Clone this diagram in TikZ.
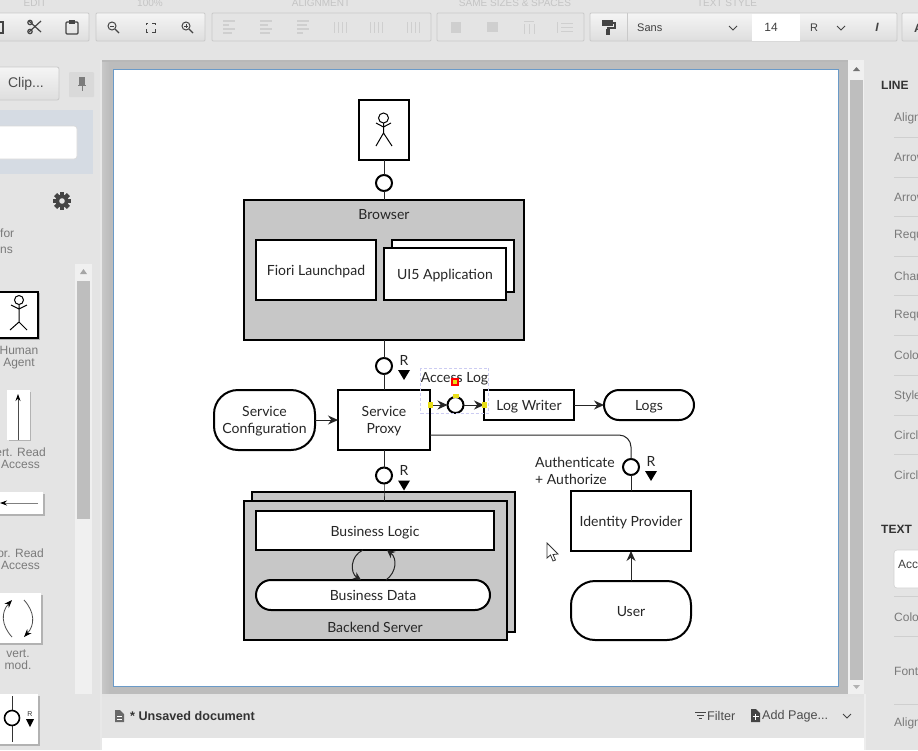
\documentclass[tikz,border=0pt]{standalone}
\usepackage{fontspec}
\setmainfont{Lato}
\newfontfamily\uifont{Liberation Sans}
\usetikzlibrary{arrows.meta,shapes.geometric}
\definecolor{appbg}{HTML}{E4E4E4}
\definecolor{stagebg}{HTML}{BCBCBC}
\definecolor{btnline}{HTML}{C9C9C9}
\definecolor{iconc}{HTML}{444444}
\definecolor{iconoff}{HTML}{CFCFCF}
\definecolor{labelc}{HTML}{7A7A7A}
\definecolor{headc}{HTML}{C4C4C4}
\definecolor{groupc}{HTML}{C9C9C9}
\definecolor{canvasline}{HTML}{6A9AC8}
\definecolor{searchbg}{HTML}{D5DBE3}
\definecolor{trackc}{HTML}{F0F0F0}
\definecolor{thumbc}{HTML}{BEBEBE}
\definecolor{sepc}{HTML}{CFCFCF}
\definecolor{selc}{HTML}{CCCCF2}
\tikzset{
  x=1pt,y=-1pt,
  btn/.style={draw=btnline,line width=.8pt,top color=F5btn,bottom color=E0btn},
  off/.style={draw=btnline,line width=.8pt},
  diag/.style={font=\fontsize{14}{17}\selectfont,text=black!85,align=center,inner sep=0pt},
  oneline/.style={text height=11pt,text depth=0pt},
  twoline/.style={text depth=0pt},
  block/.style={draw=black,line width=2pt,outer sep=0pt,fill=white,diag,minimum width=#1},
  gblock/.style={draw=black,line width=2pt,outer sep=0pt,fill=black!22,diag,minimum width=#1},
  conn/.style={draw=black!85,line width=1pt},
  arr/.style={conn,-{Stealth[length=10pt,width=9pt]}},
  port/.style={circle,draw=black,line width=2pt,fill=white,minimum size=16pt,inner sep=0pt,outer sep=0pt},
  rlabel/.style={diag,oneline},
  rtri/.style={fill=black,draw=none},
  ui/.style={font=\uifont\fontsize{12}{14}\selectfont,text=labelc,inner sep=0pt,anchor=west},
  uic/.style={font=\uifont\fontsize{12}{12}\selectfont,text=labelc,inner sep=0pt,align=center},
  uib/.style={font=\uifont\fontsize{12.6}{14}\selectfont,text=black!70,inner sep=0pt,anchor=west},
  head/.style={font=\uifont\fontsize{10}{12}\selectfont,text=headc,inner sep=0pt},
  sect/.style={font=\uifont\bfseries\fontsize{12}{14}\selectfont,text=black!80,inner sep=0pt,anchor=west},
  ico/.style={draw=iconc,line width=1.2pt},
  icooff/.style={draw=iconoff,line width=1.2pt},
  handle/.style={fill=yellow!90!black,draw=none},
  palette/.style={fill=white,draw=none},
  shade/.style={fill=black!30,draw=none},
}
\colorlet{F5btn}{white!96!black}
\colorlet{E0btn}{white!87!black}
\begin{document}
\begin{tikzpicture}
\useasboundingbox (0,0) rectangle (918,750);
\clip (0,0) rectangle (918,750);
% app background
\fill[appbg] (0,0) rectangle (918,750);
% stage around the canvas
\fill[stagebg] (102,60) rectangle (848,694);
\fill[left color=white!78!black,right color=stagebg] (102,60) rectangle (110,694);
\fill[white!91!black] (100,60) rectangle (102,750);
\fill[white!72!black] (102,60) rectangle (848,62);
% canvas
\path[fill=white,draw=canvasline,line width=1pt] (113.5,69) rectangle (838.5,686.5);
% toolbar
\node[head] (hEdit) at (35,3) {EDIT};
\node[head] (hZoom) at (150,3) {100\%};
\node[head] (hAlign) at (321,3) {ALIGNMENT};
\node[head] (hSame) at (515,3) {SAME SIZES \& SPACES};
\node[head] (hText) at (727,3) {TEXT STYLE};
\path[btn,rounded corners=1pt] (-5,13) rectangle (89,41);
\path[btn,rounded corners=1pt] (96,13) rectangle (205,41);
\path[off,rounded corners=1pt] (212,13) rectangle (431,41);
\path[off,rounded corners=1pt] (437,13) rectangle (584,41);
\path[btn,rounded corners=1pt] (590,13) rectangle (897,41);
\path[btn,rounded corners=1pt] (902,13) rectangle (925,41);
% copy fragment, scissors, clipboard
\draw[ico] (-2,22) rectangle (3,33);
\draw[ico] (29,21)--(41,32) (41,21)--(29,32);
\draw[ico] (30,22.5) circle (2.2pt) (30,31.5) circle (2.2pt);
\draw[ico,line width=1.4pt,rounded corners=1pt] (66,22) rectangle (78,34);
\fill[iconc] (69,20) rectangle (75,24);
% zoom icons
\foreach \zx in {113,187}{
  \draw[ico,line width=1pt] (\zx-1,26) circle (4pt);
  \draw[ico] (\zx+2,29)--(\zx+6,33);
  \draw[ico,line width=.8pt] (\zx-3,26)--(\zx+1,26);
}
\draw[ico,line width=.8pt] (187-1,24)--(187-1,28);
\draw[ico,line width=1pt] (146,25)--(146,23)--(148,23) (152,23)--(155,23)--(155,25) (155,29)--(155,32)--(152,32) (148,32)--(146,32)--(146,29);
% alignment icons (disabled)
\foreach \ax/\da/\db in {229/6/3,266/4/2,303/2/6}{
  \foreach \ly/\w in {21/0,25/\da,29/0,33/\db}{
    \draw[icooff] (\ax-6,\ly)--(\ax+6-\w,\ly);
  }
}
\foreach \ax in {340,376,413}{
  \foreach \lx in {-6,-2,2,6}{
    \draw[icooff,line width=1pt] (\ax+\lx,22)--(\ax+\lx,33);
  }
}
\fill[iconoff] (451,22) rectangle (461,33);
\fill[iconoff] (487,22) rectangle (498,32);
\foreach \lx in {-5,0,5}{\draw[icooff,line width=1pt] (529+\lx,24)--(529+\lx,34);}
\draw[icooff,line width=1pt] (524,21)--(534,21);
\foreach \ly in {23,27,31}{\draw[icooff,line width=1pt] (561,\ly)--(573,\ly);}
\draw[icooff,line width=1pt] (557,22)--(557,33);
% text-style group
\draw[btnline,line width=.8pt] (627,13)--(627,41);
\fill[iconc] (602,20) rectangle (613,26);
\draw[iconc,line width=1.2pt] (613,23)--(615,23)--(615,28)--(608,28)--(608,30);
\fill[iconc] (606,29) rectangle (610,35);
\node[font=\uifont\fontsize{11}{13}\selectfont,text=black!75,inner sep=0pt,anchor=west] (fontName) at (637,28) {Sans};
\draw[ico,line width=1pt] (729,26)--(733,30)--(737,26);
\fill[white] (752,13.5) rectangle (800,40.5);
\node[font=\uifont\fontsize{12}{14}\selectfont,text=black!75,inner sep=0pt] (fontSize) at (771,27) {14};
\node[font=\uifont\fontsize{11}{13}\selectfont,text=black!75,inner sep=0pt] (fontWeight) at (814,28) {R};
\draw[ico,line width=1pt] (837,26)--(841,30)--(845,26);
\node[font=\uifont\bfseries\itshape\fontsize{12}{14}\selectfont,text=iconc,inner sep=0pt] (fontItalic) at (877,27) {I};
\node[font=\uifont\bfseries\fontsize{12}{14}\selectfont,text=iconc,inner sep=0pt,anchor=west] (fontA) at (914,28) {A};
% left sidebar
\path[btn,rounded corners=2pt] (-5,67) rectangle (59,100);
\node[font=\uifont\fontsize{14}{16}\selectfont,text=black!70,inner sep=0pt] (clipBtn) at (26,84) {Clip...};
\fill[white!85!black,rounded corners=1pt] (69,72) rectangle (94,97);
\fill[iconc!70!white] (79,77) rectangle (85,85);
\draw[iconc!70!white,line width=1pt] (82,85)--(82,91) (78,85)--(86,85);
\fill[searchbg] (0,110) rectangle (93,174);
\path[fill=white,draw=white!85!black,line width=.6pt,rounded corners=3pt] (-5,126) rectangle (77,159);
% gear
\foreach \ga in {0,45,...,315}{
  \fill[iconc,rotate around={\ga:(62,201)}] (60,192) rectangle (64,210);
}
\fill[iconc] (62,201) circle (6.5pt);
\fill[appbg] (62,201) circle (2.8pt);
\node[ui] (pFor) at (0,233) {for};
\node[ui] (pNs) at (0,250) {ns};
% palette scrollbar
\fill[trackc] (75,264) rectangle (92,694);
\fill[thumbc] (77,281) rectangle (90,519);
\fill[black!35] (83.5,269)--(80,274)--(87,274)--cycle;
% palette items
\fill[shade] (-2,293) rectangle (40,340);
\path[palette,draw=black,line width=2pt] (-2,291.5) rectangle (38,338);
\draw[black,line width=1pt] (19,300) circle (4.5pt) (19,304.5)--(19,322) (11,305)--(19,309)--(27,305) (10,330)--(19,322)--(27,330);
\node[uic] (pHuman) at (19,357.5) {Human\\Agent};
\fill[shade] (9,392) rectangle (31,441);
\fill[palette] (7,390) rectangle (30,440);
\coordinate (vrA) at (18,440);
\coordinate (vrB) at (18,394);
\draw[black!70,line width=.8pt,-{Stealth[length=7pt,width=5pt,color=black]}] (vrA)--(vrB);
\node[uic,anchor=east] (pVert) at (46,458.5) {ert. Read\\Access};
\fill[shade] (-2,494) rectangle (45,516);
\fill[palette] (-2,492) rectangle (43,514);
\coordinate (hrA) at (38,503);
\coordinate (hrB) at (0,503);
\draw[black!50,line width=.8pt,-{Stealth[length=7pt,width=5pt,color=black]}] (hrA)--(hrB);
\node[uic,anchor=east] (pHor) at (44,559) {or. Read\\Access};
\fill[shade] (-2,595) rectangle (43,645);
\fill[palette] (-2,593) rectangle (41,643);
\coordinate (vmA) at (12,637);
\coordinate (vmB) at (12,600);
\coordinate (vmC) at (24,600);
\coordinate (vmD) at (24,637);
\draw[black!70,line width=.8pt,-{Stealth[length=8pt,width=6pt,color=black]}] (vmA) .. controls (1,625) and (1,612) .. (vmB);
\draw[black!70,line width=.8pt,-{Stealth[length=8pt,width=6pt,color=black]}] (vmC) .. controls (35,612) and (35,625) .. (vmD);
\node[uic] (pMod) at (18,660) {vert.\\mod.};
\fill[shade] (-2,696) rectangle (40,746);
\fill[palette] (-2,694) rectangle (38,744);
\coordinate (rbA) at (12,696);
\coordinate (rbB) at (12,742);
\draw[black!80,line width=1pt] (rbA)--(rbB);
\node[circle,draw=black,line width=1.6pt,fill=white,minimum size=15pt,inner sep=0pt] (rbC) at (12,718) {};
\node[font=\uifont\fontsize{7}{8}\selectfont,text=black!80,inner sep=0pt] (rbR) at (30,714) {R};
\fill[black] (26,719)--(34,719)--(30,727)--cycle;
% right scrollbar and panel
\fill[trackc] (848,60) rectangle (864,694);
\fill[thumbc] (850,80) rectangle (863,680);
\fill[black!55] (856.5,67)--(853,71)--(860,71)--cycle;
\fill[black!30] (856.5,689)--(853,685)--(860,685)--cycle;
\node[sect] (tLine) at (881,85) {LINE};
\node[ui] (tA1) at (894,118) {Align};
\node[ui] (tA2) at (894,157) {Arrow};
\node[ui] (tA3) at (894,197) {Arrow};
\node[ui] (tR1) at (894,236) {Requ};
\node[ui] (tC1) at (894,276) {Chan};
\node[ui] (tR2) at (894,316) {Requ};
\node[ui] (tC2) at (894,355) {Colo};
\node[ui] (tS) at (894,396) {Style};
\node[ui] (tC3) at (894,435) {Circl};
\node[ui] (tC4) at (894,475) {Circl};
\node[sect] (tText) at (881,529) {TEXT};
\path[fill=white,draw=white!82!black,line width=.6pt,rounded corners=3pt] (894,550) rectangle (925,588);
\node[ui,text=black!75] (tAcc) at (898,564) {Acc};
\node[ui] (tC5) at (894,617) {Colo};
\node[ui] (tF) at (894,671) {Font};
\node[ui] (tA4) at (894,723) {Align};
\foreach \sy in {137,177,216,256,295,335,375,415,454,596,636,704}{
  \draw[sepc,line width=.6pt] (894,\sy)--(918,\sy);
}
% bottom bar
\fill[white!89!black] (102,694) rectangle (865,697);
\fill[white] (102,738) rectangle (865,750);
\fill[white!93!black] (864,694) rectangle (866,750);
\fill[iconc!80!white] (115,710) -- (120,710) -- (124,714) -- (124,722) -- (115,722) -- cycle;
\draw[white,line width=.6pt] (117,716.5)--(122,716.5) (117,719)--(122,719);
\node[font=\uifont\bfseries\fontsize{12.6}{14}\selectfont,text=black!80,inner sep=0pt,anchor=west] (docName) at (130,716) {* Unsaved document};
\draw[iconc,line width=.7pt] (695,712.5)--(706,712.5) (697,715.5)--(704,715.5) (699,718.5)--(702,718.5);
\node[uib] (filterBtn) at (707,716) {Filter};
\fill[iconc] (751,709) -- (756,709) -- (760,713) -- (760,722) -- (751,722) -- cycle;
\draw[white,line width=.8pt] (755.5,713.5)--(755.5,719.5) (752.5,716.5)--(758.5,716.5);
\node[uib] (addPage) at (762,716) {Add Page...};
\draw[ico,line width=1pt] (843,714)--(847,718)--(851,714);

% ===== diagram =====
% containers
\node[gblock=280pt,minimum height=140pt,anchor=north west] (browser) at (244,200) {};
\node[diag,oneline] (browserT) at (384,213.5) {Browser};
\node[gblock=263pt,minimum height=140pt,anchor=north west] (backendBack) at (252,492) {};
\node[gblock=263pt,minimum height=139pt,anchor=north west] (backend) at (244,501) {};
\node[diag,oneline] (backendT) at (375,627) {Backend Server};
% actor
\node[block=50pt,minimum height=60pt] (actor) at (384,130) {};
\draw[black,line width=1pt] (383.5,118) circle (5pt) (383.5,123)--(383.5,133) (376,123)--(383.5,127)--(391,123) (376,146)--(383.5,133)--(392,146);
% browser children
\node[block=120pt,minimum height=60pt,anchor=north west,oneline] (fiori) at (256,240) {Fiori Launchpad};
\node[block=122pt,minimum height=52pt,anchor=north west] (uiBack) at (392,240) {};
\node[block=122pt,minimum height=52pt,anchor=north west,oneline] (ui5) at (384,248) {UI5 Application};
% middle row
\node[block=92pt,minimum height=60pt,anchor=north west,twoline] (proxy) at (338,390) {Service\\Proxy};
\node[block=101pt,minimum height=60pt,anchor=north west,rounded corners=24pt,twoline] (config) at (214,390) {Service\\Configuration};
\node[block=90pt,minimum height=30pt,anchor=north west,oneline] (writer) at (484,390) {Log Writer};
\node[block=90pt,minimum height=30pt,anchor=north west,rounded corners=15pt,oneline] (logs) at (604,390) {Logs};
% right column
\node[block=120pt,minimum height=60pt,anchor=north west,oneline] (idp) at (571,491) {Identity Provider};
\node[block=120pt,minimum height=59pt,anchor=north west,rounded corners=24pt,oneline] (user) at (571,581) {User};
% backend children
\node[block=238pt,minimum height=39pt,anchor=north west,oneline] (logic) at (256,511) {Business Logic};
\node[block=234pt,minimum height=30pt,anchor=north west,rounded corners=15pt,oneline] (data) at (256,580) {Business Data};
% ports
\node[port] (p1) at (384,183) {};
\node[port] (p2) at (384,366) {};
\node[port] (p3) at (384,475.5) {};
\node[port] (p4) at (455.5,405) {};
\node[port] (p5) at (631,467) {};
% connectors
\draw[conn] (actor.south) -- (p1);
\draw[conn] (p1) -- (browser.north -| p1);
\draw[conn] (browser.south -| p2) -- (p2);
\draw[conn] (p2) -- (proxy.north -| p2);
\draw[conn] (proxy.south -| p3) -- (p3);
\draw[conn] (p3) -- (backendBack.north -| p3) -- (backend.north -| p3);
\draw[arr] (config) -- (proxy);
\draw[arr] (proxy.east |- p4) -- (p4.west);
\draw[arr] (p4.east) -- (writer.west);
\draw[arr] (writer) -- (logs);
\draw[conn,rounded corners=12pt] (proxy.east |- 0,435) -- (p5 |- 0,435) -- (p5.north);
\draw[conn] (p5.south) -- (idp.north -| p5);
\draw[arr] (user) -- (idp);
\draw[conn,-{Stealth[length=8pt,width=8pt]}] ([xshift=-12pt]logic.south) .. controls (350,556) and (350,573) .. ([xshift=-12pt]data.north);
\draw[conn,-{Stealth[length=8pt,width=8pt]}] ([xshift=13pt]data.north) .. controls (397,572) and (397,558) .. ([xshift=12pt]logic.south);
% port labels
\node[rlabel] (r1) at (404,360) {R};
\fill[rtri] (398,370)--(410,370)--(404,380)--cycle;
\node[rlabel] (r2) at (404,470) {R};
\fill[rtri] (398,480.5)--(410,480.5)--(404,490.5)--cycle;
\node[rlabel] (r3) at (651,461) {R};
\fill[rtri] (645,471)--(657,471)--(651,481)--cycle;
\node[diag,oneline] (accessLog) at (454.5,377) {Access Log};
\node[diag,anchor=west,align=left,twoline] (auth) at (535,470.5) {Authenticate\\+ Authorize};
% selection overlay
\draw[selc,line width=.8pt,dash pattern=on 3pt off 2pt] (420.5,368) rectangle (488.5,413);
\fill[handle] (428,402) rectangle (433,408);
\fill[handle] (452.5,394) rectangle (458.5,398);
\fill[handle] (481.5,402) rectangle (487,408);
\fill[red] (451,378) rectangle (459,386);
\fill[handle] (453,380) rectangle (457,384);
% mouse pointer
\path[fill=white,draw=black!80,line width=.8pt] (547,543)--(547,558)--(550.5,555)--(553,561)--(555.5,560)--(553,554.5)--(558,554)--cycle;
\end{tikzpicture}
\end{document}
